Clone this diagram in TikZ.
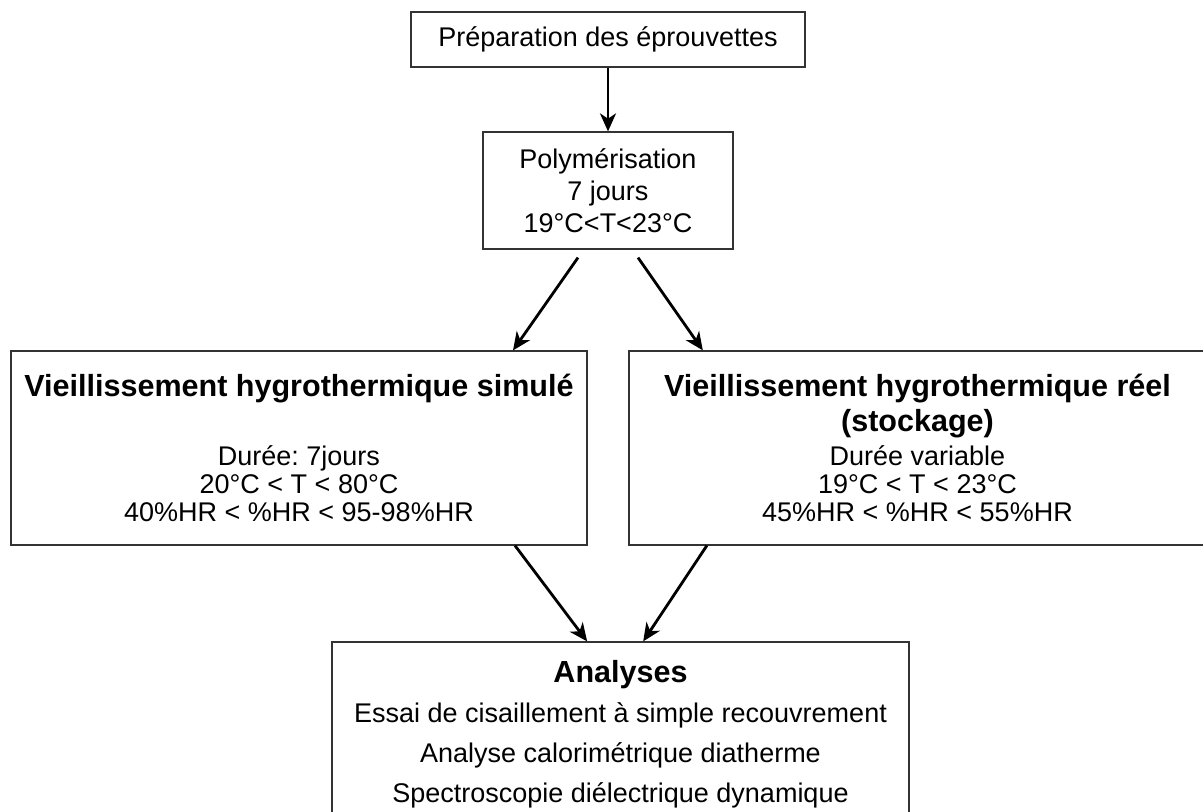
\documentclass[tikz,border=0pt]{standalone}
\usepackage{fontspec}
\setmainfont{Liberation Sans}
\usetikzlibrary{arrows.meta}
\newcommand{\txtn}{\fontsize{20.25}{21}\selectfont}
\newcommand{\txtb}{\fontsize{22.9}{21}\selectfont\bfseries}
\frenchspacing
\begin{document}
\begin{tikzpicture}[x=0.75pt,y=-0.75pt,
  boite/.style={draw=black!80,line width=0.9pt,align=center,inner sep=0pt},
  fleche/.style={-{Stealth[length=13.5pt,width=12pt,inset=4pt]},line width=2.1pt}]
\useasboundingbox (0,0) rectangle (1203,812);
\node[boite,minimum width=295.5pt,minimum height=41.25pt,font=\txtn] (prep) at (608,39.5) {Préparation des éprouvettes};
\node[boite,minimum width=187.5pt,minimum height=87.75pt,font=\fontsize{20.25}{24}\selectfont] (polym) at (608,190.5) {Polymérisation\\7 jours\\19°C<T<23°C};
\node[boite,minimum width=432pt,minimum height=145.5pt,font=\txtn] (simule) at (299,448)
  {{\txtb Vieillissement hygrothermique simulé}\\[30.5pt]Durée: 7jours\\20°C < T < 80°C\\40\%HR < \%HR < 95-98\%HR};
\node[boite,minimum width=432.75pt,minimum height=145.5pt,font=\txtn] (reel) at (917.5,448)
  {{\txtb Vieillissement hygrothermique réel}\\[3.75pt]{\txtb (stockage)}\\[4.3pt]Durée variable\\19°C < T < 23°C\\45\%HR < \%HR < 55\%HR};
\node[boite,minimum width=432.75pt,minimum height=138pt,font=\fontsize{20.25}{30}\selectfont] (analyses) at (620.5,734)
  {{\txtb Analyses}\\Essai de cisaillement à simple recouvrement\\Analyse calorimétrique diatherme\\Spectroscopie diélectrique dynamique};

\draw[fleche] (prep) -- (polym);
\draw[fleche] ([xshift=-22.5pt,yshift=-6pt]polym.south) -- ([xshift=160.5pt]simule.north);
\draw[fleche] ([xshift=22.5pt,yshift=-6pt]polym.south) -- ([xshift=-161pt]reel.north);
\draw[fleche] ([xshift=162pt]simule.south) -- ([xshift=-25pt]analyses.north);
\draw[fleche] ([xshift=-158pt]reel.south) -- ([xshift=17pt]analyses.north);
\end{tikzpicture}
\end{document}
